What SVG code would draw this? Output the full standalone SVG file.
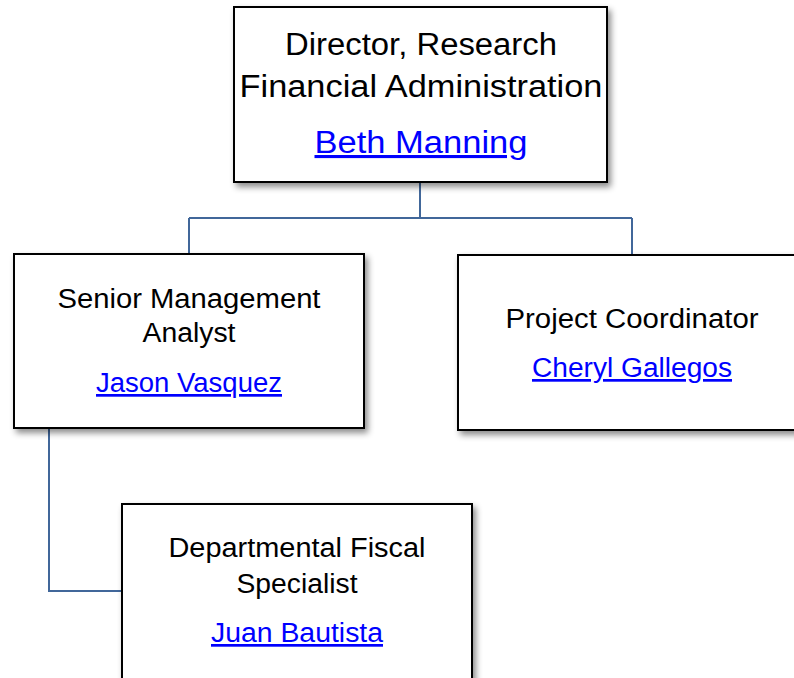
<svg xmlns="http://www.w3.org/2000/svg" width="794" height="678" viewBox="0 0 794 678">
<defs>
<filter id="sh" x="-10%" y="-10%" width="130%" height="130%">
<feDropShadow dx="3" dy="4" stdDeviation="3" flood-color="#000" flood-opacity="0.45"/>
</filter>
</defs>
<style>
.box{fill:#fff;stroke:#000;stroke-width:2;filter:url(#sh)}
.t{font-family:"Liberation Sans",Arial,sans-serif;fill:#000;text-anchor:middle}
.l{font-family:"Liberation Sans",Arial,sans-serif;fill:#0000ff;text-anchor:middle;text-decoration:underline}
.big{font-size:31px}
.mid{font-size:27px}
.c{fill:none;stroke:#41679a;stroke-width:2}
</style>
<rect width="794" height="678" fill="#fff"/>
<g id="connectors">
<path class="c" d="M420 182 V218 M189 218 H632 M189 218 V254 M632 218 V256"/>
<path class="c" d="M49 428 V591 H122"/>
</g>
<g id="director">
<rect class="box" x="234" y="7" width="373" height="175"/>
<text class="t big" x="421" y="55" textLength="272" lengthAdjust="spacingAndGlyphs">Director, Research</text>
<text class="t big" x="421" y="97" textLength="363" lengthAdjust="spacingAndGlyphs">Financial Administration</text>
<text class="l big" x="421" y="153" textLength="213" lengthAdjust="spacingAndGlyphs">Beth Manning</text>
</g>
<g id="analyst">
<rect class="box" x="14" y="254" width="350" height="174"/>
<text class="t mid" x="189" y="308" textLength="263" lengthAdjust="spacingAndGlyphs">Senior Management</text>
<text class="t mid" x="189" y="342" textLength="93" lengthAdjust="spacingAndGlyphs">Analyst</text>
<text class="l mid" x="189" y="392" textLength="186" lengthAdjust="spacingAndGlyphs">Jason Vasquez</text>
</g>
<g id="coordinator">
<rect class="box" x="458" y="255" width="345" height="175"/>
<text class="t mid" x="632" y="328" textLength="253" lengthAdjust="spacingAndGlyphs">Project Coordinator</text>
<text class="l mid" x="632" y="377" textLength="200" lengthAdjust="spacingAndGlyphs">Cheryl Gallegos</text>
</g>
<g id="specialist">
<rect class="box" x="122" y="504" width="350" height="185"/>
<text class="t mid" x="297" y="557" textLength="257" lengthAdjust="spacingAndGlyphs">Departmental Fiscal</text>
<text class="t mid" x="297" y="593" textLength="121" lengthAdjust="spacingAndGlyphs">Specialist</text>
<text class="l mid" x="297" y="642" textLength="172" lengthAdjust="spacingAndGlyphs">Juan Bautista</text>
</g>
</svg>
